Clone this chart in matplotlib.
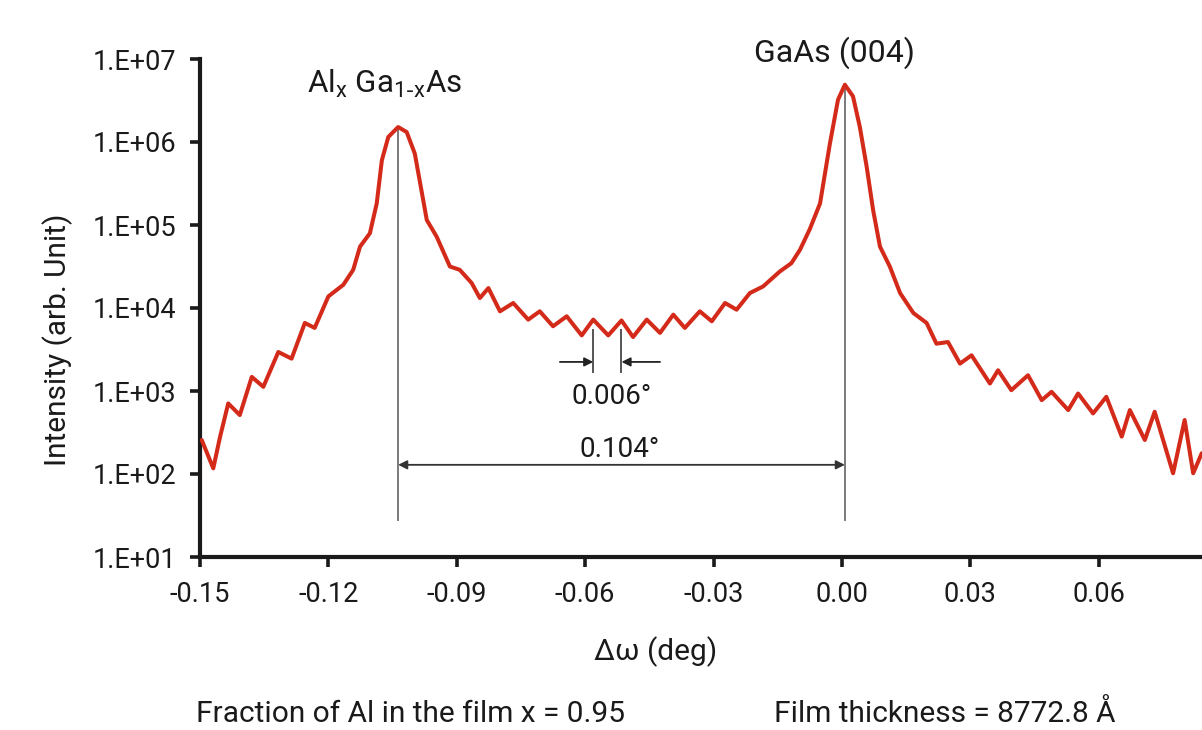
import matplotlib
matplotlib.use("Agg")
import matplotlib.pyplot as plt
import numpy as np

plt.rcParams['font.family'] = ['Roboto', 'DejaVu Sans']

# ---- data (delta omega in deg, intensity arb. unit) ----
delta_omega = [-0.1496, -0.1469, -0.1453, -0.1434, -0.1407, -0.1379, -0.1352, -0.1317,
               -0.1286, -0.1255, -0.1232, -0.1200, -0.1165, -0.1142, -0.1126, -0.1103,
               -0.1087, -0.1075, -0.1060, -0.1037, -0.1017, -0.0998, -0.0970, -0.0947,
               -0.0916, -0.0893, -0.0865, -0.0846, -0.0826, -0.0799, -0.0768, -0.0733,
               -0.0706, -0.0675, -0.0643, -0.0608, -0.0581, -0.0546, -0.0515, -0.0488,
               -0.0456, -0.0425, -0.0394, -0.0367, -0.0332, -0.0304, -0.0273, -0.0246,
               -0.0215, -0.0184, -0.0145, -0.0118, -0.0098, -0.0075, -0.0051, -0.0028,
               -0.0009, 0.0007, 0.0026, 0.0042, 0.0058, 0.0073, 0.0089, 0.0112,
               0.0136, 0.0167, 0.0198, 0.0221, 0.0248, 0.0276, 0.0303, 0.0346,
               0.0365, 0.0396, 0.0435, 0.0467, 0.0490, 0.0529, 0.0552, 0.0587,
               0.0618, 0.0654, 0.0673, 0.0708, 0.0731, 0.0774, 0.0801, 0.0821, 0.0841]
intensity = [257, 117, 282, 708, 513, 1479, 1122, 2951,
             2455, 6607, 5754, 13800, 19050, 28840, 54950, 79430,
             181970, 602560, 1148000, 1514000, 1318000, 724400, 114800, 72440,
             31620, 28840, 19950, 13180, 17380, 9120, 11480, 7244,
             9120, 6026, 7943, 4677, 7244, 4677, 7079, 4467,
             7244, 5012, 8318, 5754, 9120, 6918, 11480, 9550,
             15140, 18200, 27540, 34670, 50120, 89130, 181970, 955000,
             3236000, 4898000, 3548000, 1514000, 501200, 151400, 54950, 31620,
             15140, 8710, 6607, 3715, 3890, 2138, 2692, 1230,
             1778, 1023, 1549, 776, 977, 589, 933, 537,
             851, 282, 589, 257, 562, 102, 447, 102, 178]

x_ticks = [-0.15, -0.12, -0.09, -0.06, -0.03, 0.00, 0.03, 0.06, 0.09]
x_tick_labels = ['-0.15', '-0.12', '-0.09', '-0.06', '-0.03', '0.00', '0.03', '0.06', '0.09']
y_ticks = [1e1, 1e2, 1e3, 1e4, 1e5, 1e6, 1e7]
y_tick_labels = ['1.E+01', '1.E+02', '1.E+03', '1.E+04', '1.E+05', '1.E+06', '1.E+07']

peak_alga = (-0.1037, 1.5e6)
peak_gaas = (0.0007, 4.9e6)
fringe_peaks = [-0.0581, -0.0515]

fig = plt.figure(figsize=(12.02, 7.30), dpi=100)
ax = fig.add_axes([200/1202, 173/730, 1027/1202, 498/730])

ax.plot(delta_omega, intensity, color='#d42a1a', lw=2.9, solid_joinstyle='round',
        solid_capstyle='round', zorder=3)
ax.set_yscale('log')
ax.set_xlim(-0.15, 0.09)
ax.set_ylim(1e1, 1e7)
ax.set_xticks(x_ticks)
ax.set_xticklabels(x_tick_labels)
ax.set_yticks(y_ticks)
ax.set_yticklabels(y_tick_labels)
ax.yaxis.set_minor_locator(matplotlib.ticker.NullLocator())
for s in ['top', 'right']:
    ax.spines[s].set_visible(False)
for s in ['left', 'bottom']:
    ax.spines[s].set_linewidth(3.0)
    ax.spines[s].set_color('#1a1a1a')
ax.tick_params(axis='both', direction='out', length=7, width=2.6, labelsize=19.5,
               colors='#1a1a1a')
ax.tick_params(axis='y', pad=10)
ax.tick_params(axis='x', pad=10)

# vertical guide lines at the two main peaks
ylow = 28
ax.plot([peak_alga[0], peak_alga[0]], [ylow, peak_alga[1]], color='#7a7a7a', lw=1.4, zorder=2)
ax.plot([peak_gaas[0], peak_gaas[0]], [ylow, peak_gaas[1]], color='#7a7a7a', lw=1.4, zorder=2)
ax.annotate('', xy=(peak_alga[0], 129), xytext=(peak_gaas[0], 129),
            arrowprops=dict(arrowstyle='<|-|>', color='#333333', lw=1.3,
                            mutation_scale=13, shrinkA=0, shrinkB=0))
ax.text(-0.0519, 195, '0.104°', ha='center', va='center', fontsize=20, color='#1a1a1a')

# fringe spacing marks
for fx in fringe_peaks:
    ax.plot([fx, fx], [1700, 5400], color='#555555', lw=1.4, zorder=2)
ax.annotate('', xy=(fringe_peaks[0], 2240), xytext=(-0.0659, 2240),
            arrowprops=dict(arrowstyle='-|>', color='#222222', lw=1.3,
                            mutation_scale=13, shrinkA=0, shrinkB=0))
ax.annotate('', xy=(fringe_peaks[1], 2240), xytext=(-0.0425, 2240),
            arrowprops=dict(arrowstyle='-|>', color='#222222', lw=1.3,
                            mutation_scale=13, shrinkA=0, shrinkB=0))
ax.text(-0.0537, 850, '0.006°', ha='center', va='center', fontsize=20, color='#1a1a1a')

# peak labels
fig.text(385/1202, 1 - 84/730, r'Al$_{\mathregular{x}}$ Ga$_{\mathregular{1\text{-}x}}$As',
         ha='center', va='center', fontsize=22.5, color='#1a1a1a')
fig.text(834/1202, 1 - 53/730, 'GaAs (004)', ha='center', va='center', fontsize=23,
         color='#1a1a1a')

# axis labels
fig.text(656/1202, 1 - 652/730, 'Δω (deg)', ha='center', va='center', fontsize=21.5,
         color='#1a1a1a')
fig.text(58/1202, 1 - 340/730, 'Intensity (arb. Unit)', ha='center', va='center',
         rotation=90, fontsize=21.5, color='#1a1a1a')

# bottom notes
fig.text(411/1202, 1 - 714/730, 'Fraction of Al in the film x = 0.95', ha='center',
         va='center', fontsize=21.5, color='#1a1a1a')
fig.text(945/1202, 1 - 714/730, 'Film thickness = 8772.8 Å', ha='center', va='center',
         fontsize=21.5, color='#1a1a1a')

fig.savefig('out.png', dpi=100)
